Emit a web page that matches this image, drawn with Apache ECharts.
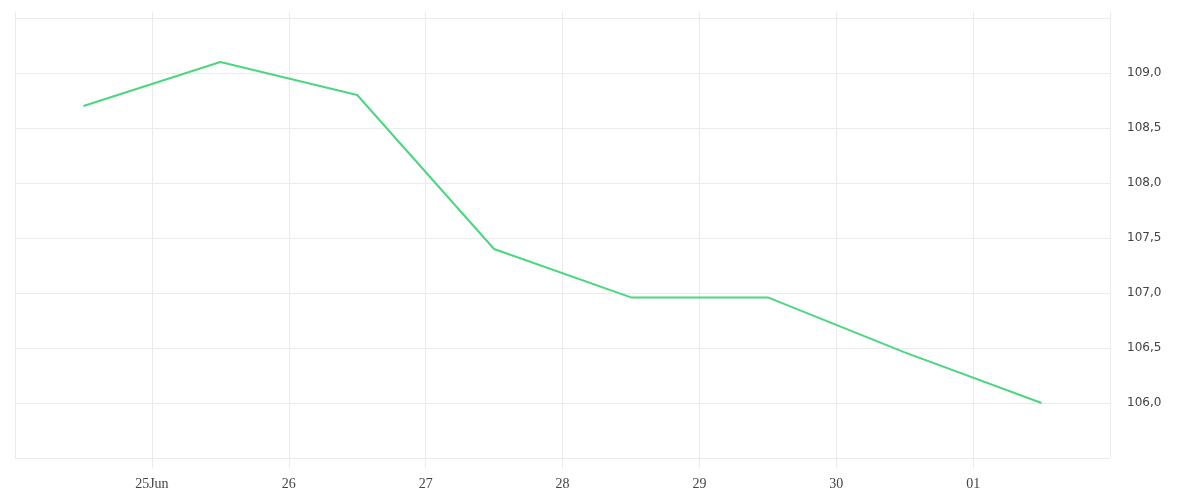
<!DOCTYPE html>
<html>
<head>
<meta charset="utf-8">
<script src="https://cdn.jsdelivr.net/npm/echarts@6/dist/echarts.min.js"></script>
<style>
html,body{margin:0;padding:0;background:#fff;}
#chart{width:1200px;height:500px;}
</style>
</head>
<body>
<div id="chart"></div>
<script>
// Data
var startDate = '2024-06-24T00:00:00';
var dates = ['2024-06-24T12:00:00','2024-06-25T12:00:00','2024-06-26T12:00:00','2024-06-27T12:00:00',
             '2024-06-28T12:00:00','2024-06-29T12:00:00','2024-06-30T12:00:00','2024-07-01T12:00:00'];
var values = [108.7, 109.1, 108.8, 107.4, 106.96, 106.96, 106.46, 106.0];
var xTickLabels = ['', '25Jun', '26', '27', '28', '29', '30', '01', ''];

var DAY = 86400000;
var t0 = Date.parse(startDate);
var seriesData = dates.map(function (d, i) {
  return [(Date.parse(d) - t0) / DAY, values[i]];
});

var chart = echarts.init(document.getElementById('chart'));
chart.setOption({
  animation: false,
  grid: { left: 15, right: 90, top: 18, bottom: 42, containLabel: false },
  xAxis: [{
    type: 'value',
    min: 0, max: 8, interval: 1,
    position: 'bottom',
    axisLine: { show: false },
    axisTick: { show: true, length: 10, lineStyle: { color: '#ebebeb' } },
    splitLine: { show: true, lineStyle: { color: '#ebebeb', width: 1 } },
    axisLabel: {
      margin: 19,
      color: '#444',
      fontFamily: 'Liberation Serif',
      fontSize: 14,
      showMinLabel: false,
      showMaxLabel: false,
      formatter: function (v) { return xTickLabels[Math.round(v)] || ''; }
    }
  }, {
    type: 'value',
    min: 0, max: 8, interval: 1,
    position: 'top',
    axisLine: { show: false },
    axisTick: { show: true, length: 6, lineStyle: { color: '#ebebeb' } },
    splitLine: { show: false },
    axisLabel: { show: false }
  }],
  yAxis: {
    type: 'value',
    position: 'right',
    min: 105.5, max: 109.5, interval: 0.5,
    axisLine: { show: false },
    axisTick: { show: false },
    splitLine: { show: true, lineStyle: { color: '#ebebeb', width: 1 } },
    axisLabel: {
      margin: 17,
      color: '#444',
      fontFamily: 'DejaVu Sans',
      fontSize: 12,
      padding: [4, 0, 0, 0],
      showMinLabel: false,
      showMaxLabel: false,
      formatter: function (v) { return v.toFixed(1).replace('.', ','); }
    }
  },
  series: [{
    type: 'line',
    xAxisIndex: 0,
    data: seriesData,
    showSymbol: false,
    lineStyle: { color: '#4cd67e', width: 2 },
    itemStyle: { color: '#4cd67e' }
  }]
});
</script>
</body>
</html>
